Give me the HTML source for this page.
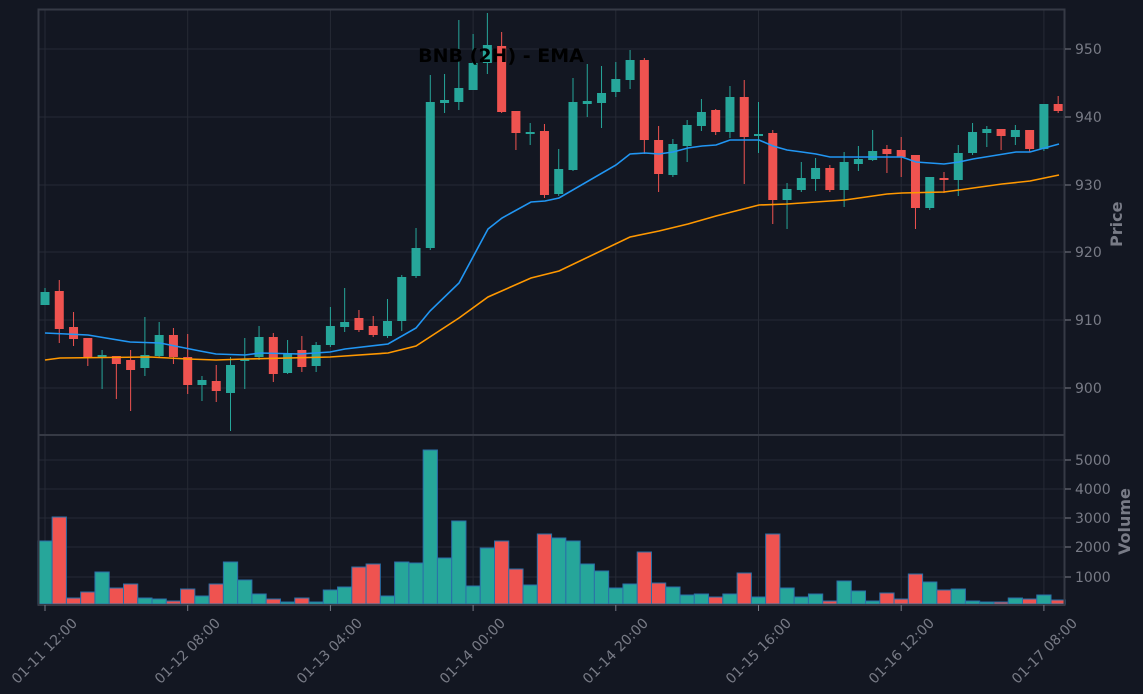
<!DOCTYPE html>
<html><head><meta charset="utf-8"><style>
html,body{margin:0;padding:0;background:#131722;}
svg{display:block;font-family:"DejaVu Sans","Liberation Sans",sans-serif;}
</style></head><body>
<svg id="s" width="1143" height="694" xmlns="http://www.w3.org/2000/svg">
<rect width="1143" height="694" fill="#131722"/>
<g id="grid" stroke="#262a35" stroke-width="1"></g>
<g id="vol"></g>
<g id="cand"></g>
<g id="ema"></g>
<rect x="38.5" y="9.5" width="1026" height="425.5" fill="none" stroke="#363a45" stroke-width="2"/>
<rect x="38.5" y="435" width="1026" height="170" fill="none" stroke="#363a45" stroke-width="2"/>
<g id="ticks" stroke="#787b86" stroke-width="1"></g>
<g fill="#787b86" font-size="14">
<text x="1075" y="54">950</text><text x="1075" y="122">940</text><text x="1075" y="190">930</text>
<text x="1075" y="257">920</text><text x="1075" y="325">910</text><text x="1075" y="393">900</text>
<text x="1075" y="465">5000</text><text x="1075" y="494">4000</text><text x="1075" y="523">3000</text>
<text x="1075" y="552">2000</text><text x="1075" y="582">1000</text>
<text font-weight="bold" font-size="16" transform="translate(1122,247) rotate(-90)">Price</text>
<text font-weight="bold" font-size="16" transform="translate(1130,555) rotate(-90)">Volume</text>
</g>
<g fill="#787b86" font-size="14" text-anchor="end">
<text transform="translate(78,624) rotate(-45)">01-11 12:00</text>
<text transform="translate(221,624) rotate(-45)">01-12 08:00</text>
<text transform="translate(363,624) rotate(-45)">01-13 04:00</text>
<text transform="translate(506,624) rotate(-45)">01-14 00:00</text>
<text transform="translate(649,624) rotate(-45)">01-14 20:00</text>
<text transform="translate(792,624) rotate(-45)">01-15 16:00</text>
<text transform="translate(935,624) rotate(-45)">01-16 12:00</text>
<text transform="translate(1078,624) rotate(-45)">01-17 08:00</text>
</g>
<text x="501" y="62" text-anchor="middle" font-size="19" font-weight="bold" fill="#000">BNB (2H) - EMA</text>
</svg>
<script>
var NS="http://www.w3.org/2000/svg";
function el(p,t,a){var e=document.createElementNS(NS,t);for(var k in a)e.setAttribute(k,a[k]);document.getElementById(p).appendChild(e);return e;}
var G="#26a69a",R="#ef5350";
var C=[
['g',292,305,288,305],['r',291,329,280,343],['r',327,339,312,346],['r',338,358,338,366],['g',355,358,350,389],
['r',356,364,356,399],['r',360,370,350,411],['g',355,368,317,376],['g',335,356,322,358],['r',335,357,328,364],
['r',357,385,334,394],['g',380,385,376,401],['r',381,391,365,402],['g',365,393,357,431],['g',359,361,338,389],
['g',337,357,326,360],['r',337,374,333,382],['g',353,373,340,374],['r',350,367,336,372],['g',345,366,342,372],
['g',326,345,307,347],['g',322,327,288,332],['r',318,330,310,332],['r',326,335,316,337],['g',321,336,299,338],
['g',277,321,275,331],['g',248,276,228,278],['g',102,248,75,250],['g',100,103,74,113],['g',88,102,20,110],
['g',63,90,34,90],['g',45,63,13,74],['r',46,112,32,113],['r',111,133,111,150],['g',132,134,123,145],
['r',131,195,124,198],['g',169,194,149,196],['g',102,170,78,171],['g',101,104,64,117],['g',93,103,66,128],
['g',79,92,62,97],['g',60,80,50,89],['r',60,140,58,154],['r',140,174,126,192],['g',144,175,139,177],
['g',125,146,120,162],['g',112,126,99,131],['r',110,132,109,135],['g',97,132,86,138],['r',97,137,80,184],
['g',134,136,102,153],['r',133,200,130,224],['g',189,200,183,229],['g',178,190,162,192],['g',168,179,158,191],
['r',168,190,165,192],['g',162,190,152,207],['g',159,164,146,171],['g',151,160,130,161],['r',149,154,145,173],
['r',150,157,137,177],['r',155,208,155,229],['g',177,208,177,210],['r',178,180,172,193],['g',153,180,145,196],
['g',132,153,123,155],['g',129,133,126,147],['r',129,136,129,150],['g',130,137,125,145],['r',130,149,130,152],
['g',104,149,104,151],['r',104,111,96,113]];
var V=[541,517,598,592,572,588,584,598,599,601,589,596,584,562,580,594,599,602,598,602,590,587,567,564,596,562,563,450,558,521,586,548,541,569,585,534,538,541,564,571,588,584,552,583,587,595,594,597,594,573,597,534,588,597,594,601,581,591,601,593,599,574,582,590,589,601,602,602,598,599,595,600];
var dx=14.27;function X(i){return 45+dx*i;}
[49,117,185,252,320,388,460,489,518,547,577].forEach(function(y){el('grid','line',{x1:39,x2:1064,y1:y,y2:y});});
for(var k=0;k<8;k++){var x=X(k*10);el('grid','line',{x1:x,x2:x,y1:10,y2:604});el('ticks','line',{x1:x,x2:x,y1:605,y2:611});}
[49,117,185,252,320,388,460,489,518,547,577].forEach(function(y){el('ticks','line',{x1:1065,x2:1071,y1:y,y2:y});});
for(var i=0;i<V.length;i++){el('vol','rect',{x:X(i)-dx/2,y:V[i],width:dx,height:604-V[i],fill:C[i][0]=='g'?G:R,stroke:'#2a6fa8','stroke-width':1});}
for(var i=0;i<C.length;i++){var c=C[i],col=c[0]=='g'?G:R,x=X(i);
el('cand','line',{x1:x,x2:x,y1:c[3],y2:c[4],stroke:col,'stroke-width':1});
el('cand','rect',{x:x-4.5,y:c[1],width:9,height:Math.max(2,c[2]-c[1]),fill:col});}
function pl(pts,col){el('ema','polyline',{points:pts.map(function(p){return p[0]+','+p[1];}).join(' '),fill:'none',stroke:col,'stroke-width':1.6});}
pl([[45,333],[88,335],[130,342],[160,343],[200,351],[216,354],[245,355],[260,353],[300,354],[330,352],[345,349],[388,344],[416,328],[430,311],[459,283],[488,229],[502,218],[531,202],[545,201],[559,198],[616,165],[630,154],[645,153],[659,154],[673,152],[688,148],[702,146],[716,145],[730,140],[759,140],[773,146],[787,150],[802,152],[816,154],[830,157],[845,157],[887,157],[902,157],[916,162],[944,164],[959,162],[973,159],[1016,152],[1030,152],[1059,144]],'#2196f3');
pl([[45,360],[60,358],[150,357],[188,359],[216,360],[245,359],[330,357],[388,353],[416,346],[459,318],[488,297],[531,278],[559,271],[630,237],[659,231],[688,224],[716,216],[759,205],[787,204],[830,201],[845,200],[887,194],[902,193],[944,192],[959,190],[1002,184],[1030,181],[1059,175]],'#ff9800');
</script>
</body></html>
